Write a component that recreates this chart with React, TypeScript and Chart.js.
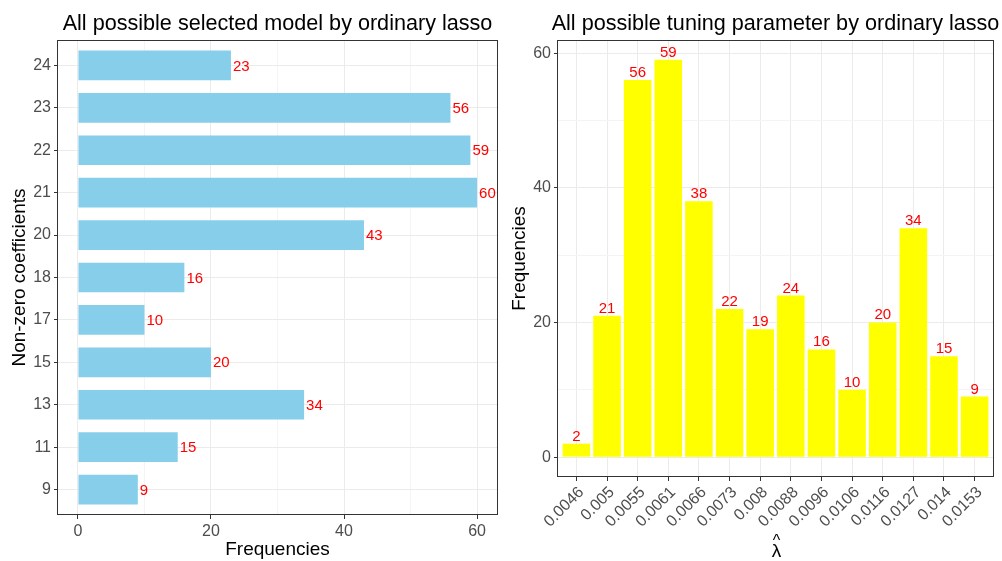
import { useEffect, useRef } from "react";
import { Chart, registerables } from "chart.js";

Chart.register(...registerables);

const FONT = '"Liberation Sans", Arial, Helvetica, sans-serif';

// Left panel: model sizes (number of non-zero coefficients) and how often each was selected
const modelSizes = ["9", "11", "13", "15", "17", "18", "20", "21", "22", "23", "24"];
const modelCounts = [9, 15, 34, 20, 10, 16, 43, 60, 59, 56, 23];

// Right panel: selected tuning parameters and their frequencies
const lambdaLabels = [
  "0.0046", "0.005", "0.0055", "0.0061", "0.0066", "0.0073", "0.008",
  "0.0088", "0.0096", "0.0106", "0.0116", "0.0127", "0.014", "0.0153",
];
const lambdaCounts = [2, 21, 56, 59, 38, 22, 19, 24, 16, 10, 20, 34, 15, 9];

// Count-axis breaks: majors are labelled, minors only get a light grid line
const countBreaks = [0, 10, 20, 30, 40, 50, 60];
const labelledEvery = 20;

const TICK_COLOR = "#4D4D4D";
const MAJOR_GRID = "#EBEBEB";
const MINOR_GRID = "#F4F4F4";
const FRAME = "#333333";

const isMajor = (v: number) => v % labelledEvery === 0;

function countAxis(min: number, max: number, extra: any) {
  return {
    type: "linear",
    bounds: "data",
    offset: false,
    min,
    max,
    afterBuildTicks: (s: any) => {
      s.ticks = countBreaks.map((v) => ({ value: v }));
    },
    ticks: {
      autoSkip: false,
      padding: 3,
      color: TICK_COLOR,
      font: { size: 16, family: FONT },
      callback: (v: any) => (isMajor(Number(v)) ? String(v) : ""),
    },
    grid: {
      offset: false,
      color: (c: any) => (c.tick && isMajor(c.tick.value) ? MAJOR_GRID : MINOR_GRID),
      tickColor: (c: any) => (c.tick && isMajor(c.tick.value) ? FRAME : "rgba(0,0,0,0)"),
      tickLength: 4,
      lineWidth: 1,
    },
    border: { display: false },
    ...extra,
  };
}

function categoryAxis(labels: string[], extra: any, tickExtra: any = {}) {
  return {
    type: "linear",
    bounds: "data",
    offset: false,
    min: -0.6,
    max: labels.length - 0.4,
    afterBuildTicks: (s: any) => {
      s.ticks = labels.map((_, i) => ({ value: i }));
    },
    ticks: {
      autoSkip: false,
      padding: 3,
      color: TICK_COLOR,
      font: { size: 16, family: FONT },
      callback: (v: any) => labels[Number(v)] ?? "",
      ...tickExtra,
    },
    grid: { offset: false, color: MAJOR_GRID, tickColor: FRAME, tickLength: 4, lineWidth: 1 },
    border: { display: false },
    ...extra,
  };
}

// Draws value labels, the panel frame, the centred panel title and an optional hand-set axis title
function panelDecor(title: string, horizontal: boolean, hatSymbol?: string) {
  return {
    id: "panelDecor",
    afterDatasetsDraw(chart: any) {
      const { ctx, chartArea: a } = chart;
      const meta = chart.getDatasetMeta(0);
      const data = chart.data.datasets[0].data as any[];
      ctx.save();
      ctx.fillStyle = "#FF0000";
      ctx.font = `15px ${FONT}`;
      meta.data.forEach((bar: any, i: number) => {
        const d = data[i];
        if (horizontal) {
          ctx.textAlign = "left";
          ctx.textBaseline = "middle";
          ctx.fillText(String(d.x), bar.x + 2, bar.y + 1);
        } else {
          ctx.textAlign = "center";
          ctx.textBaseline = "alphabetic";
          ctx.fillText(String(d.y), bar.x, bar.y - 3);
        }
      });
      ctx.strokeStyle = FRAME;
      ctx.lineWidth = 1;
      ctx.strokeRect(
        Math.round(a.left) - 0.5,
        Math.round(a.top) + 0.5,
        Math.round(a.right - a.left) + 1,
        Math.round(a.bottom - a.top) - 1
      );
      ctx.fillStyle = "#000000";
      ctx.font = `21.6px ${FONT}`;
      ctx.textAlign = "center";
      ctx.textBaseline = "alphabetic";
      ctx.fillText(title, (a.left + a.right) / 2, 30);
      if (hatSymbol) {
        const cx = (a.left + a.right) / 2 + 1;
        ctx.font = `19px ${FONT}`;
        ctx.fillText(hatSymbol, cx, 557);
        ctx.font = `16px ${FONT}`;
        ctx.fillText("^", cx, 546);
      }
      ctx.restore();
    },
  };
}

function ModelPanel() {
  const ref = useRef<HTMLCanvasElement | null>(null);
  useEffect(() => {
    if (!ref.current) return;
    const chart = new Chart(ref.current, {
      type: "bar",
      data: {
        datasets: [
          {
            data: modelCounts.map((v, i) => ({ x: v, y: i })),
            backgroundColor: "#87CEEB",
            borderWidth: 0,
            barPercentage: 0.7,
            categoryPercentage: 1,
          },
        ],
      },
      options: {
        indexAxis: "y",
        animation: false,
        responsive: false,
        layout: { padding: { top: 40, right: 3, left: 0, bottom: 0 } },
        plugins: { legend: { display: false }, tooltip: { enabled: false }, title: { display: false } },
        scales: {
          x: countAxis(-3, 63, {
            afterFit: (s: any) => {
              s.height = 46;
            },
            title: {
              display: true,
              text: "Frequencies",
              color: "#000000",
              font: { size: 19, family: FONT },
              padding: { top: 0, bottom: 0 },
            },
          }),
          y: categoryAxis(modelSizes, {
            afterFit: (s: any) => {
              s.width = 58;
            },
            title: {
              display: true,
              text: "Non-zero coefficients",
              color: "#000000",
              font: { size: 19, family: FONT },
              padding: { top: 8.5, bottom: 0 },
            },
          }),
        },
      } as any,
      plugins: [panelDecor("All possible selected model by ordinary lasso", true)],
    });
    return () => chart.destroy();
  }, []);
  return (
    <canvas
      ref={ref}
      width={500}
      height={561}
      style={{ position: "absolute", left: 0, top: 0, width: 500, height: 561 }}
    />
  );
}

function LambdaPanel() {
  const ref = useRef<HTMLCanvasElement | null>(null);
  useEffect(() => {
    if (!ref.current) return;
    const chart = new Chart(ref.current, {
      type: "bar",
      data: {
        datasets: [
          {
            data: lambdaCounts.map((v, i) => ({ x: i, y: v })),
            backgroundColor: "#FFFF00",
            borderWidth: 0,
            barPercentage: 0.9,
            categoryPercentage: 1,
          },
        ],
      },
      options: {
        animation: false,
        responsive: false,
        layout: { padding: { top: 40, right: 9, left: 0, bottom: 0 } },
        plugins: { legend: { display: false }, tooltip: { enabled: false }, title: { display: false } },
        scales: {
          x: categoryAxis(
            lambdaLabels,
            {
              afterFit: (s: any) => {
                s.height = 84;
              },
              title: { display: false },
            },
            { minRotation: 45, maxRotation: 45, labelOffset: 5, padding: 2 }
          ),
          y: countAxis(-2.95, 61.95, {
            afterFit: (s: any) => {
              s.width = 58;
            },
            title: {
              display: true,
              text: "Frequencies",
              color: "#000000",
              font: { size: 19, family: FONT },
              padding: { top: 8, bottom: 0 },
            },
          }),
        },
      } as any,
      plugins: [panelDecor("All possible tuning parameter by ordinary lasso", false, "\u03BB")],
    });
    return () => chart.destroy();
  }, []);
  return (
    <canvas
      ref={ref}
      width={502}
      height={561}
      style={{ position: "absolute", left: 500, top: 0, width: 502, height: 561 }}
    />
  );
}

export default function App() {
  return (
    <div
      style={{
        position: "absolute",
        left: 0,
        top: 0,
        width: 1002,
        height: 561,
        background: "#FFFFFF",
        overflow: "hidden",
      }}
    >
      <ModelPanel />
      <LambdaPanel />
    </div>
  );
}
